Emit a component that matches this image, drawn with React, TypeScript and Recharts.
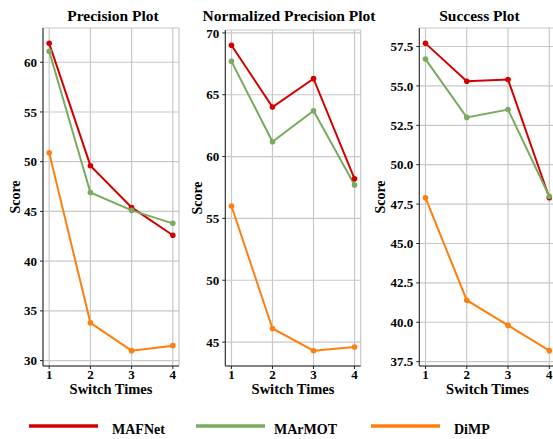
import React from 'react';
import { LineChart, Line, XAxis, YAxis, CartesianGrid } from 'recharts';

const switchTimes = [1, 2, 3, 4];
const seriesNames = ['MAFNet', 'MArMOT', 'DiMP'];
const seriesColors = ['#d40000', '#78ab5e', '#ff7f0e'];

const precisionMAFNet = [61.9, 49.6, 45.4, 42.6];
const precisionMArMOT = [61.1, 46.9, 45.1, 43.8];
const precisionDiMP = [50.9, 33.8, 31.0, 31.5];

const normMAFNet = [69.0, 64.0, 66.3, 58.2];
const normMArMOT = [67.7, 61.2, 63.7, 57.7];
const normDiMP = [56.0, 46.1, 44.3, 44.6];

const successMAFNet = [57.7, 55.3, 55.4, 47.9];
const successMArMOT = [56.7, 53.0, 53.5, 48.0];
const successDiMP = [47.9, 41.4, 39.8, 38.2];

const precisionTicks = [30, 35, 40, 45, 50, 55, 60];
const normTicks = [45, 50, 55, 60, 65, 70];
const successTicks = [37.5, 40, 42.5, 45, 47.5, 50, 52.5, 55, 57.5];

const FONT = 'Liberation Serif, Times New Roman, Times, serif';

function buildRows(a: number[], b: number[], c: number[]) {
  return switchTimes.map((x, i) => ({ x, MAFNet: a[i], MArMOT: b[i], DiMP: c[i] }));
}

function autoDomain(rows: any[]): [number, number] {
  const vals: number[] = [];
  rows.forEach((r) => seriesNames.forEach((n) => vals.push(r[n])));
  const mn = Math.min(...vals);
  const mx = Math.max(...vals);
  const pad = (mx - mn) * 0.05;
  return [mn - pad, mx + pad];
}

const xDomain: [number, number] = [0.85, 4.15];
const tickStyle = {
  fontFamily: FONT,
  fontWeight: 700,
  fontSize: 13,
  fill: '#000',
  style: { fontFamily: FONT, fontWeight: 700 },
};
const spine = { stroke: '#222', strokeWidth: 1 };

type PanelProps = {
  left: number;
  width: number;
  yWidth: number;
  marginRight: number;
  marginTop: number;
  rows: any[];
  ticks: number[];
  fmt?: (v: number) => string;
};

function Panel({ left, width, yWidth, marginRight, marginTop, rows, ticks, fmt }: PanelProps) {
  const domain = autoDomain(rows);
  const plotBottom = 366;
  const height = 400;
  return (
    <div style={{ position: 'absolute', left, top: 0, width, height, fontFamily: FONT }}>
      <LineChart
        width={width}
        height={height}
        data={rows}
        margin={{ top: marginTop, right: marginRight, left: 0, bottom: 0 }}
        style={{ fontFamily: FONT }}
      >
        <CartesianGrid stroke="#c8c8c8" strokeWidth={1.2} />
        <XAxis
          dataKey="x"
          type="number"
          domain={xDomain}
          ticks={switchTimes}
          allowDataOverflow
          height={height - plotBottom}
          tickSize={3}
          tickMargin={1}
          tick={tickStyle}
          axisLine={spine}
          tickLine={{ stroke: '#222' }}
          interval={0}
        />
        <XAxis
          xAxisId="top"
          orientation="top"
          dataKey="x"
          type="number"
          domain={xDomain}
          allowDataOverflow
          height={0}
          tick={false}
          tickLine={false}
          axisLine={spine}
        />
        <YAxis
          type="number"
          domain={domain}
          ticks={ticks}
          allowDataOverflow
          width={yWidth}
          tickSize={3}
          tickMargin={3}
          tick={tickStyle}
          tickFormatter={fmt}
          axisLine={spine}
          tickLine={{ stroke: '#222' }}
          interval={0}
        />
        <YAxis
          yAxisId="right"
          orientation="right"
          type="number"
          domain={domain}
          allowDataOverflow
          width={0}
          tick={false}
          tickLine={false}
          axisLine={spine}
        />
        {seriesNames.map((n, i) => (
          <Line
            key={n}
            dataKey={n}
            stroke={seriesColors[i]}
            strokeWidth={2}
            dot={{ r: 2.8, fill: seriesColors[i], stroke: seriesColors[i], strokeWidth: 0 }}
            isAnimationActive={false}
          />
        ))}
      </LineChart>
    </div>
  );
}

const titles = [
  { text: 'Precision Plot', x: 113 },
  { text: 'Normalized Precision Plot', x: 289 },
  { text: 'Success Plot', x: 479.5 },
];
const xLabels = [111, 293, 487.5];
const yLabels = [
  { x: 20, y: 197 },
  { x: 202, y: 198 },
  { x: 385, y: 197 },
];
const legendItems = [
  { x1: 29, x2: 98, tx: 112 },
  { x1: 196, x2: 265, tx: 274 },
  { x1: 371, x2: 440, tx: 454 },
];

const textStyle = { fontFamily: FONT, fontWeight: 700 };

export default function App() {
  const pRows = buildRows(precisionMAFNet, precisionMArMOT, precisionDiMP);
  const nRows = buildRows(normMAFNet, normMArMOT, normDiMP);
  const sRows = buildRows(successMAFNet, successMArMOT, successDiMP);
  return (
    <div
      style={{
        position: 'absolute',
        left: 0,
        top: 0,
        width: 553,
        height: 439,
        overflow: 'hidden',
        background: '#fff',
        fontFamily: FONT,
      }}
    >
      <Panel left={0} width={185} yWidth={43} marginRight={6} marginTop={28} rows={pRows} ticks={precisionTicks} />
      <Panel left={185} width={180} yWidth={40.3} marginRight={4.3} marginTop={30} rows={nRows} ticks={normTicks} />
      <Panel
        left={365}
        width={196.5}
        yWidth={54.3}
        marginRight={6}
        marginTop={28}
        rows={sRows}
        ticks={successTicks}
        fmt={(v: number) => v.toFixed(1)}
      />
      <svg
        width={553}
        height={439}
        style={{ position: 'absolute', left: 0, top: 0, pointerEvents: 'none', ...textStyle }}
      >
        {titles.map((t) => (
          <text key={t.text} x={t.x} y={20.5} textAnchor="middle" fontSize={15.5} fill="#000" style={textStyle}>
            {t.text}
          </text>
        ))}
        {xLabels.map((x, i) => (
          <text key={'xl' + i} x={x} y={394} textAnchor="middle" fontSize={14.5} fill="#000" style={textStyle}>
            Switch Times
          </text>
        ))}
        {yLabels.map((p, i) => (
          <text
            key={'yl' + i}
            x={p.x}
            y={p.y}
            textAnchor="middle"
            fontSize={14}
            fill="#000"
            style={textStyle}
            transform={`rotate(-90 ${p.x} ${p.y})`}
          >
            Score
          </text>
        ))}
        {legendItems.map((l, i) => (
          <g key={'lg' + i}>
            <line x1={l.x1} x2={l.x2} y1={426} y2={426} stroke={seriesColors[i]} strokeWidth={3.5} />
            <text x={l.tx} y={433.5} fontSize={14} fill="#000" style={textStyle}>
              {seriesNames[i]}
            </text>
          </g>
        ))}
      </svg>
    </div>
  );
}
